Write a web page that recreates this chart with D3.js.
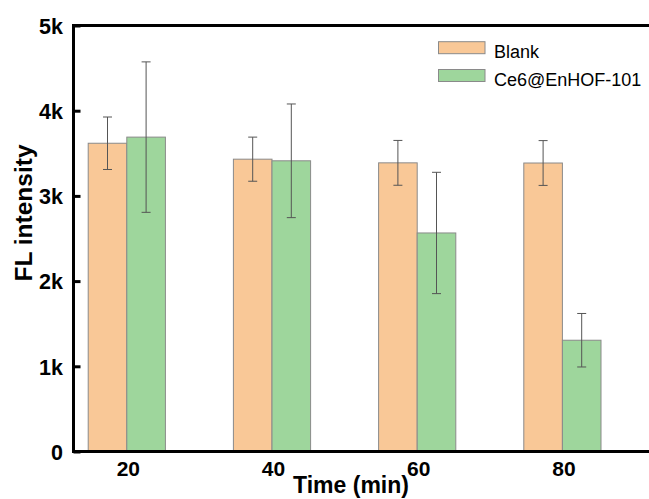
<!DOCTYPE html>
<html>
<head>
<meta charset="utf-8">
<script src="https://cdn.jsdelivr.net/npm/d3@7"></script>
<style>
  html, body { margin: 0; padding: 0; background: #fff; }
  svg { display: block; font-family: "Liberation Sans", Arial, sans-serif; }
</style>
</head>
<body>
<svg id="chart" width="649" height="499"></svg>
<script>
// Fluorescence intensity over time, two groups, mean ± error
const times = ["20", "40", "60", "80"];
const seriesNames = ["Blank", "Ce6@EnHOF-101"];
const blankValues = [3618, 3431, 3388, 3386];
const blankErrors = [308, 259, 263, 263];
const ce6Values = [3690, 3412, 2565, 1306];
const ce6Errors = [883, 667, 712, 314];
const yTicks = [0, 1000, 2000, 3000, 4000, 5000];
const seriesColors = ["#F9C897", "#9ED69C"];

const svg = d3.select("#chart");
const plotLeft = 73.5, plotRight = 660, plotTop = 25.5, plotBottom = 451.5;

const x = d3.scalePoint().domain(times).range([126.8, 562.4]);
const y = d3.scaleLinear().domain([0, 5000]).range([plotBottom, plotTop]);
const barW = 38.6;

const series = [
  { name: seriesNames[0], values: blankValues, errors: blankErrors, color: seriesColors[0], offset: -1 },
  { name: seriesNames[1], values: ce6Values, errors: ce6Errors, color: seriesColors[1], offset: 0 }
];

// bars
series.forEach(s => {
  svg.append("g").selectAll("rect")
    .data(times)
    .join("rect")
    .attr("x", (t) => x(t) + s.offset * barW)
    .attr("y", (t, i) => y(s.values[i]))
    .attr("width", barW)
    .attr("height", (t, i) => plotBottom - y(s.values[i]))
    .attr("fill", s.color)
    .attr("stroke", "#8a8a8a")
    .attr("stroke-width", 1);
});

// error bars
series.forEach(s => {
  const g = svg.append("g").attr("stroke", "#555").attr("stroke-width", 1).attr("fill", "none");
  times.forEach((t, i) => {
    const cx = x(t) + s.offset * barW + barW / 2;
    const hi = y(s.values[i] + s.errors[i]);
    const lo = y(s.values[i] - s.errors[i]);
    g.append("line").attr("x1", cx).attr("x2", cx).attr("y1", hi).attr("y2", lo);
    g.append("line").attr("x1", cx - 4.5).attr("x2", cx + 4.5).attr("y1", hi).attr("y2", hi);
    g.append("line").attr("x1", cx - 4.5).attr("x2", cx + 4.5).attr("y1", lo).attr("y2", lo);
  });
});

// frame lines (left, bottom, top)
const frame = svg.append("g").attr("stroke", "#000").attr("stroke-width", 3).attr("fill", "none");
frame.append("path").attr("d", `M${plotRight},${plotTop}H${plotLeft}V${plotBottom}H${plotRight}`);

// y axis with inward ticks
const yAxis = d3.axisRight(y)
  .tickValues(yTicks)
  .tickSize(7)
  .tickFormat(v => v === 0 ? "0" : (v / 1000) + "k");
const yg = svg.append("g").attr("transform", `translate(${plotLeft},0)`).call(yAxis);
yg.select(".domain").remove();
yg.selectAll(".tick line").attr("stroke", "#000").attr("stroke-width", 3);
yg.selectAll(".tick text")
  .attr("x", -10.5)
  .attr("dy", "0.36em")
  .attr("text-anchor", "end")
  .attr("font-size", 21.5)
  .attr("font-weight", "bold")
  .attr("fill", "#000");

// x axis labels
const xAxis = d3.axisBottom(x).tickSize(0).tickPadding(0);
const xg = svg.append("g").attr("transform", `translate(1,${plotBottom})`).call(xAxis);
xg.select(".domain").remove();
xg.selectAll(".tick text")
  .attr("y", 24.5)
  .attr("dy", 0)
  .attr("font-size", 21)
  .attr("font-weight", "bold")
  .attr("fill", "#000");

// axis titles
svg.append("text")
  .attr("x", 351).attr("y", 493)
  .attr("text-anchor", "middle")
  .attr("font-size", 23).attr("font-weight", "bold")
  .text("Time (min)");

svg.append("text")
  .attr("transform", "translate(32,213) rotate(-90)")
  .attr("text-anchor", "middle")
  .attr("font-size", 24.5).attr("font-weight", "bold")
  .text("FL intensity");

// legend
const legend = svg.append("g");
series.forEach((s, i) => {
  const ly = 41.7 + i * 27.8;
  legend.append("rect")
    .attr("x", 438.5).attr("y", ly)
    .attr("width", 46.5).attr("height", 12)
    .attr("fill", s.color)
    .attr("stroke", "#8a8a8a").attr("stroke-width", 1);
  legend.append("text")
    .attr("x", 494).attr("y", ly + 16)
    .attr("font-size", 18)
    .attr("fill", "#000")
    .text(s.name);
});
</script>
</body>
</html>
